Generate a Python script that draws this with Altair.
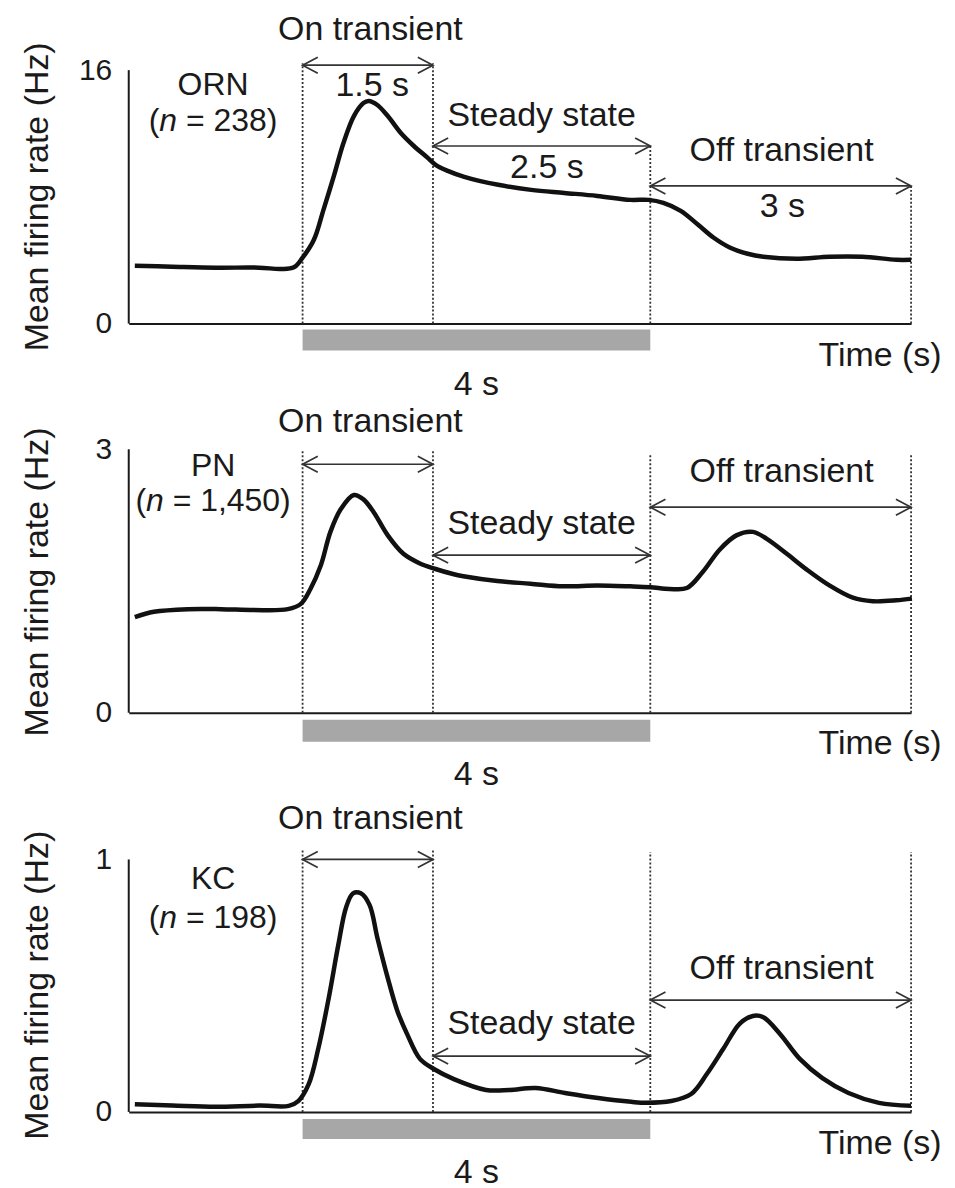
import altair as alt
import pandas as pd

FONT = "Liberation Sans"
INK = "#1a1a1a"
ARROW = "#333333"
BAR = "#a7a7a7"

T_DOMAIN = [-2.0, 7.0]
PLOT_W = 784
SPACING = 40
FS = 34
FS_NAME = 32

# ---------------- data ----------------
orn_t = [-1.93, -1.5, -1.0, -0.5, -0.25, -0.1, 0.0, 0.13, 0.24, 0.36, 0.47, 0.59, 0.70, 0.76,
         0.86, 0.98, 1.13, 1.28, 1.44, 1.53, 1.67, 1.86, 2.25, 2.63, 3.01, 3.39, 3.77, 3.98,
         4.15, 4.35, 4.55, 4.73, 4.92, 5.12, 5.30, 5.68, 6.06, 6.44, 6.83, 7.0]
orn_v = [3.65, 3.59, 3.53, 3.53, 3.45, 3.55, 4.16, 5.29, 7.18, 9.32, 11.40, 13.10, 13.92, 14.05,
         13.80, 13.10, 12.03, 11.21, 10.46, 10.02, 9.64, 9.26, 8.76, 8.44, 8.25, 8.06, 7.81, 7.81,
         7.62, 7.12, 6.24, 5.42, 4.79, 4.41, 4.22, 4.09, 4.22, 4.22, 4.03, 4.03]

pn_t = [-1.93, -1.71, -1.32, -0.94, -0.56, -0.17, -0.02, 0.09, 0.21, 0.32, 0.44, 0.59, 0.70,
        0.82, 0.98, 1.16, 1.35, 1.52, 1.73, 1.85, 2.24, 2.62, 3.00, 3.39, 3.77, 4.00, 4.22,
        4.42, 4.60, 4.80, 4.99, 5.18, 5.34, 5.57, 5.80, 6.06, 6.33, 6.56, 6.83, 7.01]
pn_v = [1.09, 1.15, 1.18, 1.18, 1.17, 1.18, 1.24, 1.41, 1.68, 2.06, 2.32, 2.48, 2.43,
        2.28, 2.02, 1.81, 1.70, 1.64, 1.58, 1.555, 1.50, 1.47, 1.44, 1.45, 1.44, 1.43, 1.41,
        1.42, 1.60, 1.86, 2.02, 2.06, 1.98, 1.81, 1.63, 1.45, 1.31, 1.27, 1.28, 1.30]

kc_t = [-1.93, -1.5, -1.0, -0.5, -0.16, -0.05, 0.07, 0.18, 0.30, 0.41, 0.50, 0.58, 0.67, 0.77,
        0.86, 0.98, 1.09, 1.20, 1.35, 1.51, 1.74, 2.11, 2.38, 2.68, 3.02, 3.40, 3.78, 3.95,
        4.24, 4.47, 4.65, 4.84, 5.03, 5.18, 5.30, 5.49, 5.72, 5.98, 6.28, 6.63, 7.0]
kc_v = [0.03, 0.025, 0.02, 0.025, 0.024, 0.043, 0.11, 0.25, 0.45, 0.66, 0.81, 0.866, 0.866, 0.82,
        0.69, 0.53, 0.40, 0.31, 0.21, 0.17, 0.13, 0.087, 0.087, 0.095, 0.075, 0.055, 0.040, 0.036,
        0.043, 0.071, 0.15, 0.25, 0.35, 0.38, 0.375, 0.31, 0.21, 0.134, 0.075, 0.036, 0.024]

cell_names = ["ORN", "PN", "KC"]
cell_counts = ["238", "1,450", "198"]
y_max = [16, 3, 1]

# epoch boundaries (s)
STIM_ON, ON_END, STIM_OFF, REC_END = 0.0, 1.5, 4.0, 7.0

# ---------------- layout (annotation placement per panel, in data units) ----------------
layout = [
    dict(axis_px=254, panel_h=254, on_text=18.52, on_arrow=16.31, st_text=13.10, st_arrow=11.21,
         off_text=10.90, off_arrow=8.69, name=15.06, nline=12.79,
         tops=[16.44, 16.44, 11.21, 8.69], bar=(-0.38, -1.70), four=-3.9, time=-2.02, title=8.0,
         subs=[("1.5 s", 0.80, 14.99), ("2.5 s", 2.81, 9.83), ("3 s", 5.52, 7.37)]),
    dict(axis_px=264, panel_h=390 - SPACING, on_text=3.307, on_arrow=2.83, st_text=2.148, st_arrow=1.795,
         off_text=2.739, off_arrow=2.341, name=2.81, nline=2.41,
         tops=[2.99, 2.99, 2.943, 2.943], bar=(-0.08, -0.33), four=-0.705, time=-0.352, title=1.49,
         subs=[]),
    dict(axis_px=253, panel_h=400 - SPACING, on_text=1.162, on_arrow=1.0, st_text=0.348, st_arrow=0.221,
         off_text=0.565, off_arrow=0.443, name=0.921, nline=0.767,
         tops=[1.043, 1.043, 1.03, 1.03], bar=(-0.028, -0.107), four=-0.241, time=-0.126, title=0.502,
         subs=[]),
]

ARIAL_W = {"(": 0.333, ")": 0.333, "n": 0.556, "=": 0.584, " ": 0.278, ",": 0.278}
for d in "0123456789":
    ARIAL_W[d] = 0.556


def tw(s, size=FS_NAME):
    return sum(ARIAL_W.get(c, 0.556) for c in s) * size


RIGHT_HEAD = "M-1.9,-1L0,0L-1.9,1"
LEFT_HEAD = "M1.9,-1L0,0L1.9,1"
HEAD_SIZE = 256


def make_panel(i):
    L = layout[i]
    ymax = y_max[i]
    ppu = L["axis_px"] / ymax
    ytop = L["panel_h"] / ppu
    xs = alt.Scale(domain=T_DOMAIN, nice=False, zero=False)
    ys = alt.Scale(domain=[0, ytop], nice=False, zero=False)
    xaxis = alt.Axis(labels=False, ticks=False, title=None, grid=False, domain=True,
                     domainColor=INK, domainWidth=2)
    yaxis = alt.Axis(values=[0, ymax], ticks=False, domain=False, grid=False, title=None,
                     labelFont=FONT, labelFontSize=30, labelColor=INK, labelPadding=17,
                     labelFlush=False)

    def X(f):
        return alt.X(f, type="quantitative", scale=xs, axis=xaxis)

    def Y(f):
        return alt.Y(f, type="quantitative", scale=ys, axis=yaxis)

    t_vals = [orn_t, pn_t, kc_t][i]
    v_vals = [orn_v, pn_v, kc_v][i]
    line_df = pd.DataFrame({"t": t_vals, "v": v_vals})

    layers = []
    # stimulus bar
    bar_df = pd.DataFrame({"t0": [STIM_ON], "t1": [STIM_OFF], "v0": [L["bar"][0]], "v1": [L["bar"][1]]})
    layers.append(alt.Chart(bar_df).mark_rect(color=BAR).encode(
        x=X("t0"), x2="t1", y=Y("v0"), y2="v1"))
    # dotted epoch lines
    dot_df = pd.DataFrame({"t": [STIM_ON, ON_END, STIM_OFF, REC_END], "v": [0] * 4, "v2": L["tops"]})
    layers.append(alt.Chart(dot_df).mark_rule(color="#333333", strokeWidth=1.8, strokeDash=[2, 2]).encode(
        x=X("t"), y=Y("v"), y2="v2"))
    # y axis line
    yax_df = pd.DataFrame({"t": [T_DOMAIN[0]], "v": [0], "v2": [ymax]})
    layers.append(alt.Chart(yax_df).mark_rule(color=INK, strokeWidth=2).encode(
        x=X("t"), y=Y("v"), y2="v2"))
    # arrows
    arr_df = pd.DataFrame({"t0": [STIM_ON, ON_END, STIM_OFF], "t1": [ON_END, STIM_OFF, REC_END],
                           "v": [L["on_arrow"], L["st_arrow"], L["off_arrow"]]})
    layers.append(alt.Chart(arr_df).mark_rule(color=ARROW, strokeWidth=1.7).encode(
        x=X("t0"), x2="t1", y=Y("v")))
    layers.append(alt.Chart(arr_df).mark_point(shape=LEFT_HEAD, size=HEAD_SIZE, filled=False, color=ARROW,
                                               strokeWidth=1.7, opacity=1).encode(x=X("t0"), y=Y("v")))
    layers.append(alt.Chart(arr_df).mark_point(shape=RIGHT_HEAD, size=HEAD_SIZE, filled=False, color=ARROW,
                                               strokeWidth=1.7, opacity=1).encode(x=X("t1"), y=Y("v")))
    # response line
    layers.append(alt.Chart(line_df).mark_line(color="#111111", strokeWidth=4.5,
                                               interpolate="catmull-rom").encode(x=X("t"), y=Y("v")))
    # centered texts
    txt = [("On transient", 0.78, L["on_text"]), ("Steady state", 2.75, L["st_text"]),
           ("Off transient", 5.51, L["off_text"]), ("4 s", 2.0, L["four"])] + L["subs"]
    txt_df = pd.DataFrame(txt, columns=["label", "t", "v"])
    layers.append(alt.Chart(txt_df).mark_text(font=FONT, fontSize=FS, color=INK, align="center",
                                              baseline="middle").encode(x=X("t"), y=Y("v"), text="label:N"))
    # cell-type name
    name_df = pd.DataFrame({"label": [cell_names[i]], "t": [-1.03], "v": [L["name"]]})
    layers.append(alt.Chart(name_df).mark_text(font=FONT, fontSize=FS_NAME, color=INK, align="center",
                                               baseline="middle").encode(x=X("t"), y=Y("v"), text="label:N"))
    # time label
    time_df = pd.DataFrame({"label": ["Time (s)"], "t": [7.35], "v": [L["time"]]})
    layers.append(alt.Chart(time_df).mark_text(font=FONT, fontSize=FS, color=INK, align="right",
                                               baseline="middle").encode(x=X("t"), y=Y("v"), text="label:N"))
    # y title
    ttl_df = pd.DataFrame({"label": ["Mean firing rate (Hz)"], "t": [-3.045], "v": [L["title"]]})
    layers.append(alt.Chart(ttl_df).mark_text(font=FONT, fontSize=FS, color=INK, align="center",
                                              baseline="middle", angle=270).encode(
        x=X("t"), y=Y("v"), text="label:N"))
    # (n = ...) with italic n
    rest = "= " + cell_counts[i] + ")"
    total = tw("(") + tw("n") + tw(" ") + tw(rest)
    left = -total / 2
    nt, nv = -1.03, L["nline"]
    ndf = pd.DataFrame({"t": [nt], "v": [nv], "a": ["("], "b": ["n"], "c": [rest]})
    layers.append(alt.Chart(ndf).mark_text(font=FONT, fontSize=FS_NAME, color=INK, align="left",
                                           baseline="middle", dx=left).encode(x=X("t"), y=Y("v"), text="a:N"))
    layers.append(alt.Chart(ndf).mark_text(font=FONT, fontSize=FS_NAME, color=INK, align="left",
                                           baseline="middle", fontStyle="italic", dx=left + tw("(")).encode(
        x=X("t"), y=Y("v"), text="b:N"))
    layers.append(alt.Chart(ndf).mark_text(font=FONT, fontSize=FS_NAME, color=INK, align="left",
                                           baseline="middle", dx=left + tw("(") + tw("n") + tw(" ")).encode(
        x=X("t"), y=Y("v"), text="c:N"))

    return alt.layer(*layers).properties(width=PLOT_W, height=L["panel_h"])


chart = alt.vconcat(make_panel(0), make_panel(1), make_panel(2), spacing=SPACING, bounds="flush").properties(
    padding={"left": 12, "top": 3, "right": 5, "bottom": 5}
).configure_view(stroke=None)

chart.save("out.html", embed_options={"renderer": "svg", "actions": False})
